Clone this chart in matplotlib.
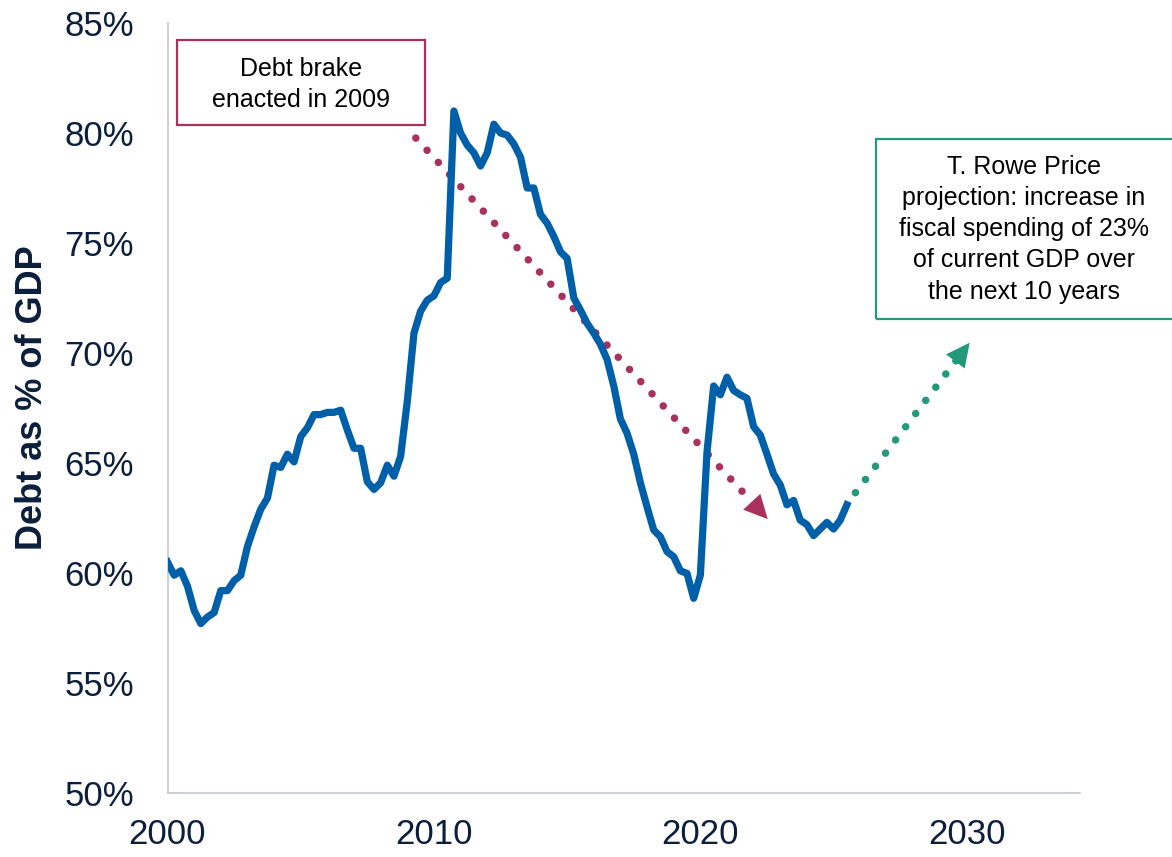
import numpy as np
import matplotlib
matplotlib.use('Agg')
import matplotlib.pyplot as plt
from matplotlib.patches import Rectangle

plt.rcParams['font.family'] = ['Liberation Sans', 'DejaVu Sans']

# quarterly debt-to-GDP, 2000Q1 .. 2025Q3
start_year = 2000
debt_pct = [60.5, 59.9, 60.1, 59.4, 58.3, 57.7, 58.0, 58.2, 59.2, 59.2,
            59.65, 59.9, 61.2, 62.1, 62.9, 63.4, 64.9, 64.8, 65.4, 65.05,
            66.2, 66.6, 67.2, 67.2, 67.3, 67.3, 67.4, 66.5, 65.67, 65.67,
            64.15, 63.8, 64.1, 64.9, 64.4, 65.3, 67.8, 70.9, 71.9, 72.4,
            72.6, 73.2, 73.4, 81.0, 80.0, 79.45, 79.1, 78.5, 79.1, 80.4,
            80.0, 79.9, 79.5, 78.9, 77.5, 77.5, 76.3, 75.9, 75.3, 74.6,
            74.3, 72.5, 71.95, 71.35, 70.9, 70.4, 69.7, 68.5, 67.0, 66.35,
            65.4, 64.1, 63.0, 61.95, 61.65, 60.97, 60.74, 60.1, 59.98, 58.85,
            59.9, 65.5, 68.5, 68.1, 68.9, 68.3, 68.1, 67.94, 66.65, 66.27,
            65.4, 64.5, 64.0, 63.1, 63.3, 62.4, 62.2, 61.7, 62.0, 62.3,
            62.0, 62.4, 63.1]
years = start_year + np.arange(len(debt_pct)) * 0.25

x_ticks = [2000, 2010, 2020, 2030]
y_ticks = [50, 55, 60, 65, 70, 75, 80, 85]

# annotation arrows: (start, tip)
brake_arrow = [(2009.32, 79.77), (2022.53, 62.45)]
proj_arrow = [(2025.82, 63.65), (2030.11, 70.47)]

brake_text = 'Debt brake\nenacted in 2009'
proj_text = ('T. Rowe Price\nprojection: increase in\nfiscal spending of 23%\n'
             'of current GDP over\nthe next 10 years')

navy = '#0b1f3d'
blue = '#005fa9'
red = '#a9315c'
green = '#21997a'

fig = plt.figure(figsize=(11.72, 8.57), dpi=100)
ax = fig.add_axes([167.5 / 1172, 1 - 793 / 857, (1080 - 167.5) / 1172, 770 / 857])

ax.plot(years, debt_pct, color=blue, lw=5.2, solid_joinstyle='round', zorder=3)

def dotted_arrow(pts, color):
    (x0, y0), (x1, y1) = pts
    # dotted shaft stops short of the head
    f = 0.93
    xe, ye = x0 + (x1 - x0) * f, y0 + (y1 - y0) * f
    ax.plot([x0, xe], [y0, ye], color=color, lw=5.4, linestyle=(0, (0.01, 2.2)),
            dash_capstyle='round', zorder=2)
    ax.annotate('', xy=(x1, y1), xytext=(x0 + (x1 - x0) * 0.95, y0 + (y1 - y0) * 0.95),
                arrowprops=dict(arrowstyle='-|>,head_length=0.85,head_width=0.42',
                                mutation_scale=20, color=color, lw=0,
                                shrinkA=0, shrinkB=0), zorder=2)

dotted_arrow(brake_arrow, red)
dotted_arrow(proj_arrow, green)

ax.add_patch(Rectangle((2000.36, 80.36), 9.30, 3.87, fill=False, ec=red, lw=1.6,
                       clip_on=False, zorder=4))
ax.text(2005.01, 82.2, brake_text, ha='center', va='center', fontsize=18,
        linespacing=1.33, color='black')

ax.add_patch(Rectangle((2026.59, 71.53), 11.2, 8.2, fill=False, ec=green, lw=1.6,
                       clip_on=False, zorder=4))
ax.text(2032.14, 75.63, proj_text, ha='center', va='center', fontsize=18,
        linespacing=1.38, color='black')

ax.set_xlim(2000, 2034.25)
ax.set_ylim(50, 85)
ax.set_xticks(x_ticks)
ax.set_xticklabels([str(t) for t in x_ticks])
ax.set_yticks(y_ticks)
ax.set_yticklabels([f'{t}%' for t in y_ticks])
ax.tick_params(axis='both', length=0, labelsize=25, labelcolor=navy)
ax.tick_params(axis='y', pad=24)
ax.tick_params(axis='x', pad=18)

for s in ['top', 'right']:
    ax.spines[s].set_visible(False)
for s in ['left', 'bottom']:
    ax.spines[s].set_color('#c3c7cc')
    ax.spines[s].set_linewidth(1.2)

fig.text(33 / 1172, 1 - 398 / 857, 'Debt as % of GDP', rotation=90, ha='center',
         va='center', fontsize=26, fontweight='bold', color=navy)

fig.savefig('out.png', dpi=100)
